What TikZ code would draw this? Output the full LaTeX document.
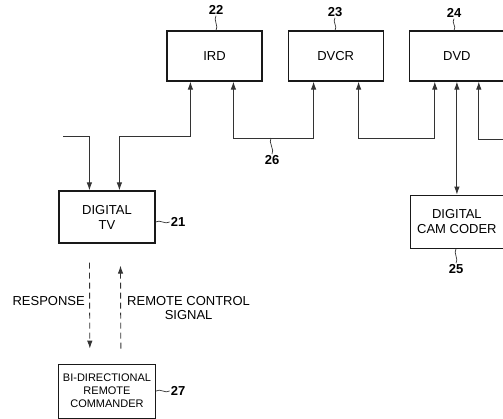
\documentclass[tikz,border=0pt]{standalone}
\usepackage{fontspec}
\setmainfont{Liberation Sans}
\usetikzlibrary{positioning, arrows.meta}

\begin{document}
\begin{tikzpicture}[x=1pt, y=-1pt,
    node distance=25pt,
    box/.style={draw=black!90, line width=1.2pt, rectangle,
                minimum height=50pt, minimum width=95pt,
                font=\fontsize{13}{15}\selectfont, align=center, inner sep=2pt},
    num/.style={font=\fontsize{13}{15}\selectfont\bfseries, inner sep=1pt},
    lab/.style={font=\fontsize{13}{14}\selectfont, align=center, inner sep=1pt},
    link/.style={draw=black!80, line width=0.9pt},
    arrow/.style={link, -{Latex[length=8pt, width=5.5pt]}},
    both/.style={link, {Latex[length=8pt, width=5.5pt]}-{Latex[length=8pt, width=5.5pt]}},
    remote/.style={dash pattern=on 6pt off 4pt},
    lead/.style={draw=black!80, line width=0.7pt}]
  \useasboundingbox (0,0) rectangle (503,418);

  % devices on the bus
  \node[box] (ird) at (214.5,56) {IRD};
  \node[box, right=of ird] (dvcr) {DVCR};
  \node[box, right=of dvcr] (dvd) {DVD};
  \node[box, minimum width=93pt, minimum height=53pt, below=113pt of dvd] (cam) {DIGITAL\\CAM CODER};
  \node[box, minimum width=96pt, minimum height=52pt] (tv) at (107,217) {DIGITAL\\TV};
  \node[box, minimum width=97pt, minimum height=54pt, below=120pt of tv,
        font=\fontsize{11}{13}\selectfont] (rc) {BI-DIRECTIONAL\\REMOTE\\COMMANDER};

  % reference numbers
  \node[num] (n22) at (216,10) {22};
  \node[num] (n23) at (335,12) {23};
  \node[num] (n24) at (454,13) {24};
  \node[num] (n21) at (178,222) {21};
  \node[num] (n25) at (456,269) {25};
  \node[num] (n26) at (272,160) {26};
  \node[num] (n27) at (178,391) {27};
  \coordinate (b26) at (271,138);
  \draw[lead] (n22.south) .. controls +(-3,4) and +(3,-4) .. (n22.south |- ird.north);
  \draw[lead] (n23.south) .. controls +(-3,4) and +(3,-4) .. (n23.south |- dvcr.north);
  \draw[lead] (n24.south) .. controls +(-3,4) and +(3,-4) .. (n24.south |- dvd.north);
  \draw[lead] (tv.east |- n21) .. controls +(4,-3) and +(-4,3) .. (n21.west);
  \draw[lead] (rc.east |- n27) .. controls +(4,-3) and +(-4,3) .. (n27.west);
  \draw[lead] (cam.south -| n25) .. controls +(-3,4) and +(3,-4) .. (n25.north);
  \draw[lead] (b26) .. controls +(-3,4) and +(3,-4) .. (n26.north);

  % connections
  \coordinate (ant) at (63,136);
  \coordinate (out) at (503,139);
  \draw[arrow] (ant) -| ([xshift=31pt]tv.north west);
  \draw[both] ([xshift=61pt]tv.north west) -- ++(0,-54) -| ([xshift=24pt]ird.south west);
  \draw[both] ([xshift=67pt]ird.south west) -- ++(0,57) -| ([xshift=26pt]dvcr.south west);
  \draw[both] ([xshift=71pt]dvcr.south west) -- ++(0,57) -| ([xshift=26pt]dvd.south west);
  \draw[arrow] (out) -| ([xshift=70pt]dvd.south west);
  \draw[both] (dvd.south) -- (cam.north);

  % remote link
  \draw[arrow, remote, shorten <=19pt, shorten >=15pt] ([xshift=31pt]tv.south west) -- ([xshift=32pt]rc.north west);
  \draw[arrow, remote, shorten <=15pt, shorten >=22pt] ([xshift=63pt]rc.north west) -- ([xshift=62pt]tv.south west);
  \node[lab, anchor=east] (resp) at (86,301) {RESPONSE};
  \node[lab, anchor=west] (rcs) at (126,308) {REMOTE CONTROL\\SIGNAL};
\end{tikzpicture}
\end{document}
